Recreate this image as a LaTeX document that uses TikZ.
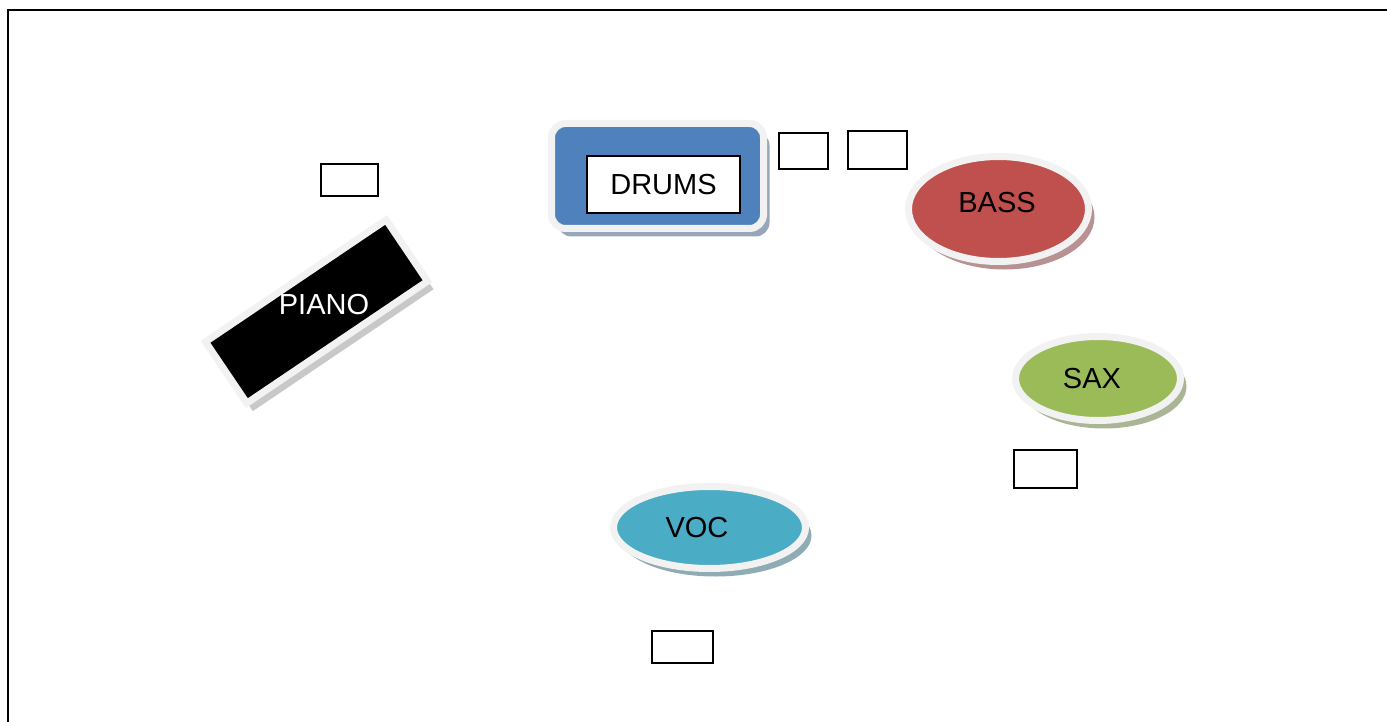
\documentclass[tikz,border=0pt]{standalone}
\usepackage{fontspec}
\setmainfont{Liberation Sans}
\usetikzlibrary{shapes.geometric,shadows}
\definecolor{rim}{HTML}{F2F2F2}
\definecolor{drumblue}{HTML}{4F81BD}
\definecolor{bassred}{HTML}{C0504D}
\definecolor{saxgreen}{HTML}{9BBB59}
\definecolor{vocblue}{HTML}{4BACC6}
\definecolor{drumshade}{HTML}{98A6BA}
\definecolor{bassshade}{HTML}{B89292}
\definecolor{saxshade}{HTML}{A9B595}
\definecolor{vocshade}{HTML}{8FACB4}
\definecolor{pianoshade}{HTML}{C8C8C8}
\tikzstyle{instrument}=[
        draw = rim,
        line width = 7pt,
        inner sep = 0pt,
        outer sep = 0pt
    ]
\tikzstyle{oval state}=[
    instrument,
    ellipse
]
\tikzstyle{spot}=[
    draw = black,
    line width = 2pt,
    fill = white,
    inner sep = 0pt
]

\begin{document}
\begin{tikzpicture}[x=1pt, y=-1pt, font=\fontsize{29}{34}\selectfont]
        \useasboundingbox (0,0) rectangle (1387,722);
        \draw[line width=2pt] (8,722) -- (8,10) -- (1387,10);

        \node[instrument, fill=black, rotate=34, minimum width=218pt, minimum height=74pt,
              drop shadow={shadow xshift=6pt, shadow yshift=-8pt, fill=pianoshade, opacity=1}] (piano) at (316.5,311.5) {};
        \node[white] (pianotext) at (324,305) {PIANO};

        \node[instrument, fill=drumblue, rounded corners=14pt, minimum width=212pt, minimum height=105pt,
              drop shadow={shadow xshift=6pt, shadow yshift=-8pt, fill=drumshade, opacity=1}] (drums) at (657.5,176) {};
        \node[spot, minimum width=153pt, minimum height=57pt] (drumbox) at (663.5,184.5) {DRUMS};

        \node[oval state, fill=bassred, minimum width=180pt, minimum height=105pt,
              drop shadow={shadow xshift=6pt, shadow yshift=-8pt, fill=bassshade, opacity=1}] (bass) at (998.5,209) {};
        \node (basstext) at (997,203) {BASS};

        \node[oval state, fill=saxgreen, minimum width=165pt, minimum height=84pt,
              drop shadow={shadow xshift=6pt, shadow yshift=-8pt, fill=saxshade, opacity=1}] (sax) at (1098,378.5) {};
        \node (saxtext) at (1092,379) {SAX};

        \node[oval state, fill=vocblue, minimum width=192pt, minimum height=82pt,
              drop shadow={shadow xshift=6pt, shadow yshift=-8pt, fill=vocshade, opacity=1}] (voc) at (709.5,527.5) {};
        \node (voctext) at (697,528) {VOC};

        \node[spot, minimum width=57pt, minimum height=32pt] (s1) at (349.5,180) {};
        \node[spot, minimum width=49pt, minimum height=36pt] (s2) at (803.5,151) {};
        \node[spot, minimum width=59pt, minimum height=38pt] (s3) at (877.5,150) {};
        \node[spot, minimum width=63pt, minimum height=38pt] (s4) at (1045.5,469) {};
        \node[spot, minimum width=61pt, minimum height=32pt] (s5) at (682.5,647) {};

    \end{tikzpicture}
\end{document}
